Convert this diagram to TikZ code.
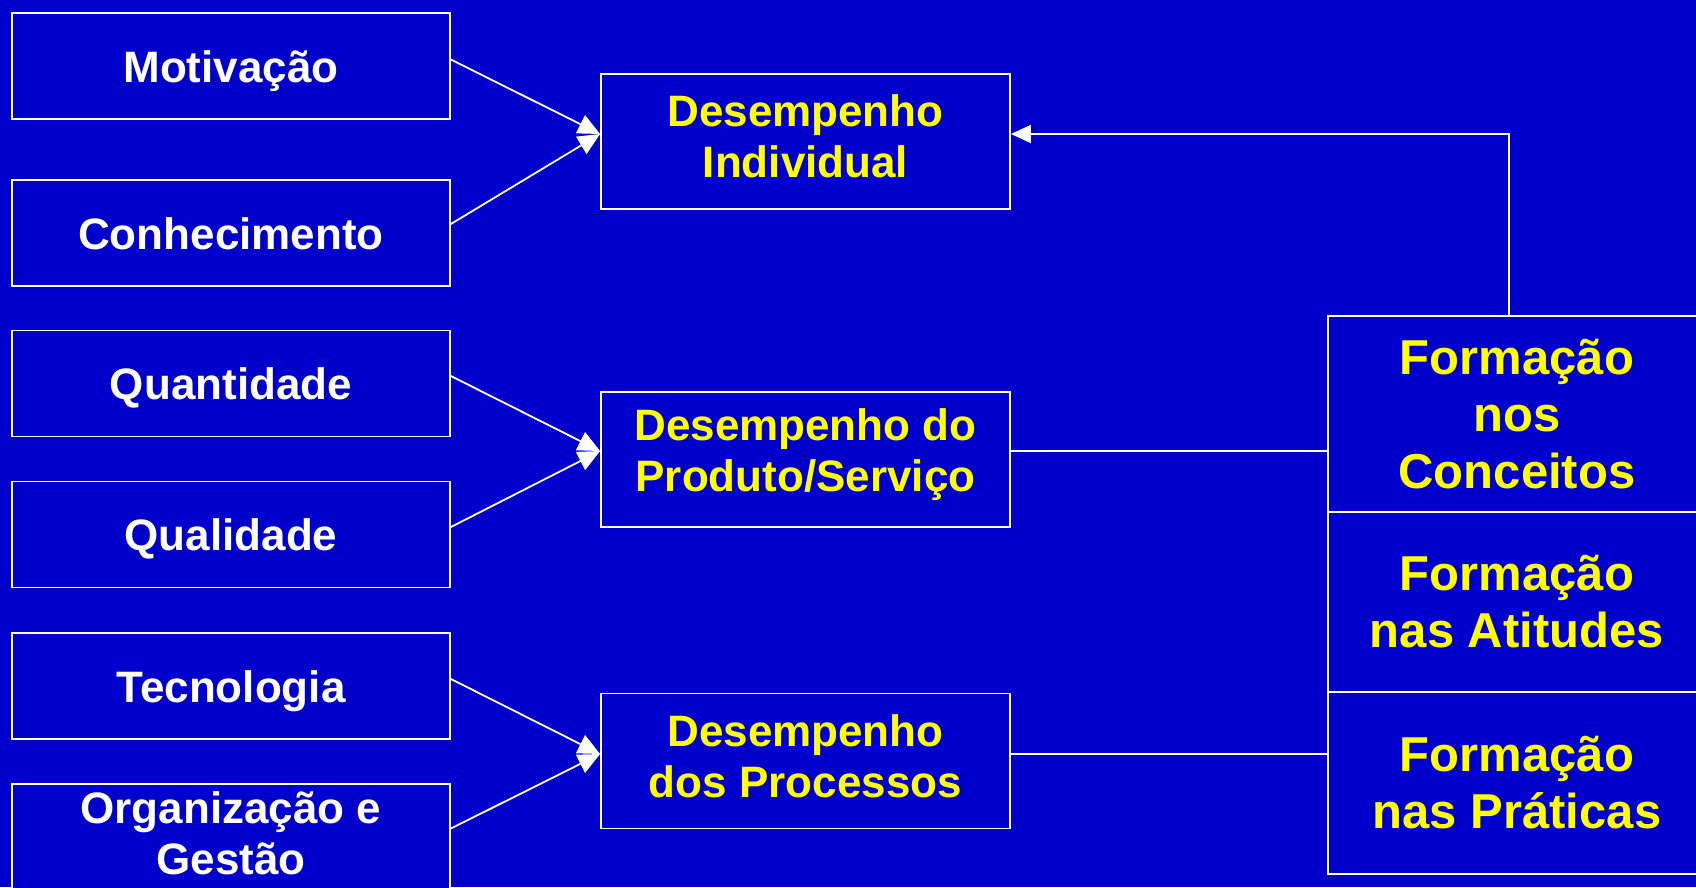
\documentclass[tikz,border=0pt]{standalone}
\usepackage{fontspec}
\setmainfont{Liberation Sans}
\usetikzlibrary{arrows.meta}
\definecolor{bg}{RGB}{0,0,204}
\definecolor{yel}{RGB}{255,255,0}
\begin{document}
\begin{tikzpicture}[x=1pt,y=-1pt,
 box/.style={draw=white, line width=1.8pt, fill=bg, inner sep=0pt, align=center, font=\bfseries\fontsize{44}{51}\selectfont},
 lbox/.style={box, text=white, minimum width=438pt, minimum height=106pt, text height=40pt, text depth=8pt},
 mbox/.style={box, minimum width=409pt, minimum height=135pt},
 rbox/.style={box, text=yel, minimum width=378pt, font=\bfseries\fontsize{49}{57}\selectfont},
 txt/.style={inner sep=0pt, align=center, font=\bfseries\fontsize{44}{51}\selectfont},
 conn/.style={white, line width=1.8pt},
 arr/.style={conn, -{Triangle[length=22pt,width=20pt]}}]
\fill[bg] (0,0) rectangle (1696,887);
\useasboundingbox (0,0) rectangle (1696,887);
% left boxes
\node[lbox] (mot) at (231,66) {Motivação};
\node[lbox] (con) at (231,233) {Conhecimento};
\node[lbox] (qua) at (231,383.5) {Quantidade};
\node[lbox] (qual) at (231,534.5) {Qualidade};
\node[lbox] (tec) at (231,686) {Tecnologia};
\node[box, minimum width=438pt, minimum height=106pt] (org) at (231,837) {};
\node[txt, text=white] (orgt) at ([yshift=4pt]org.center) {Organização e\\Gestão};
% middle boxes
\node[mbox] (di) at (805.5,141.5) {};
\node[txt, text=yel] (dit) at ([yshift=5pt]di.center) {Desempenho\\Individual};
\node[mbox] (dp) at (805.5,459.5) {};
\node[txt, text=yel] (dpt) at ([yshift=4.5pt]dp.center) {Desempenho do\\Produto/Serviço};
\node[mbox] (dpr) at (805.5,761) {};
\node[txt, text=yel] (dprt) at ([yshift=5pt]dpr.center) {Desempenho\\dos Processos};
% right boxes
\node[rbox, minimum height=196pt] (rc) at (1517,414) {Formação\\nos\\Conceitos};
\node[rbox, minimum height=180pt] (ra) at (1517,602) {Formação\\nas Atitudes};
\node[rbox, minimum height=182pt] (rp) at (1517,783) {Formação\\nas Práticas};
% connectors
\draw[arr] ([yshift=6.5pt]mot.east) -- ([yshift=7.5pt]di.west);
\draw[arr] ([yshift=9pt]con.east) -- ([yshift=7.5pt]di.west);
\draw[arr] ([yshift=7.5pt]qua.east) -- ([yshift=8.5pt]dp.west);
\draw[arr] ([yshift=7.5pt]qual.east) -- ([yshift=8.5pt]dp.west);
\draw[arr] ([yshift=7pt]tec.east) -- ([yshift=7pt]dpr.west);
\draw[arr] ([yshift=8.5pt]org.east) -- ([yshift=7pt]dpr.west);
\draw[conn, -{Triangle[length=20pt,width=18pt]}] ([xshift=-8pt]rc.north) |- ([yshift=7.5pt]di.east);
\draw[conn] ([yshift=8.5pt]dp.east) -- ([yshift=8.5pt]dp.east -| rc.west);
\draw[conn] ([yshift=7pt]dpr.east) -- ([yshift=7pt]dpr.east -| rp.west);
\end{tikzpicture}
\end{document}
